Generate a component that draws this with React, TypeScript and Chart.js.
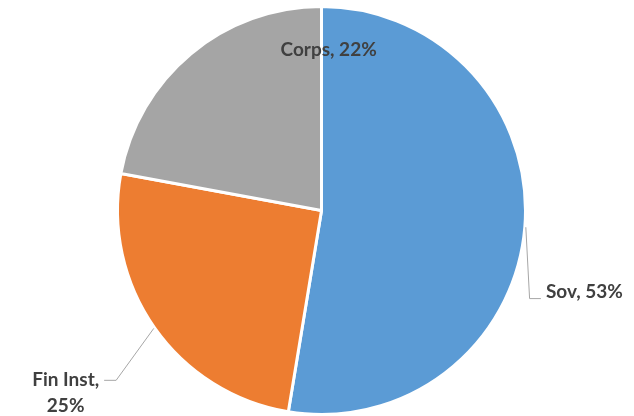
import React, { useEffect, useRef } from "react";
import { Chart, registerables } from "chart.js";

Chart.register(...registerables);

const categories = ["Sov", "Fin Inst", "Corps"];
const shares = [52.6, 25.3, 22.1];
const sliceColors = ["#5B9BD5", "#ED7D31", "#A5A5A5"];

const FONT = "bold 19px Lato, 'Open Sans', sans-serif";
const TEXT_COLOR = "#404040";
const LEADER_COLOR = "#A6A6A6";

const labelPlugin = {
  id: "excelLabels",
  afterDatasetsDraw(chart: any) {
    const ctx = chart.ctx as CanvasRenderingContext2D;
    const meta = chart.getDatasetMeta(0);
    const data = chart.data.datasets[0].data as number[];
    const total = data.reduce((a, b) => a + b, 0);
    const labels = chart.data.labels as string[];
    ctx.save();
    ctx.font = FONT;
    ctx.fillStyle = TEXT_COLOR;
    ctx.strokeStyle = LEADER_COLOR;
    ctx.lineWidth = 1;
    meta.data.forEach((arc: any, i: number) => {
      const { x, y, startAngle, endAngle, outerRadius } = arc.getProps(
        ["x", "y", "startAngle", "endAngle", "outerRadius"],
        true
      );
      const r = outerRadius;
      const mid = (startAngle + endAngle) / 2;
      const pct = Math.round((data[i] / total) * 100) + "%";
      const name = labels[i];
      const ox = x + Math.cos(mid) * (r + 1);
      const oy = y + Math.sin(mid) * (r + 1);
      if (i === 0) {
        const tx = x + 1.1 * r;
        const ty = y + 0.4 * r;
        ctx.beginPath();
        ctx.moveTo(ox, oy);
        ctx.lineTo(x + 1.02 * r, ty + 6.5);
        ctx.lineTo(tx - 5, ty + 6.5);
        ctx.stroke();
        ctx.textAlign = "left";
        ctx.textBaseline = "middle";
        ctx.fillText(name + ", " + pct, tx, ty);
      } else if (i === 1) {
        const line1 = name + ",";
        const w1 = ctx.measureText(line1).width;
        const right = x - 1.09 * r;
        const ty = y + 0.83 * r;
        ctx.beginPath();
        ctx.moveTo(ox, oy);
        ctx.lineTo(right + 17, ty + 0.5);
        ctx.lineTo(right + 5, ty + 0.5);
        ctx.stroke();
        const cxText = right - w1 / 2;
        ctx.textAlign = "center";
        ctx.textBaseline = "middle";
        ctx.fillText(line1, cxText, ty);
        ctx.fillText(pct, cxText, ty + 26);
      } else {
        ctx.textAlign = "center";
        ctx.textBaseline = "middle";
        ctx.fillText(name + ", " + pct, x + 0.035 * r, y - 0.785 * r);
      }
    });
    ctx.restore();
  },
};

export default function App() {
  const ref = useRef<HTMLCanvasElement>(null);
  useEffect(() => {
    document.body.style.margin = "0";
    const chart = new Chart(ref.current!, {
      type: "pie",
      data: {
        labels: categories,
        datasets: [
          {
            data: shares,
            backgroundColor: sliceColors,
            borderColor: "#FFFFFF",
            borderWidth: 3,
          },
        ],
      },
      options: {
        animation: false,
        responsive: false,
        devicePixelRatio: 1,
        layout: { padding: { left: 9, right: 0, top: 5, bottom: 0 } },
        plugins: {
          legend: { display: false },
          tooltip: { enabled: false },
        },
      },
      plugins: [labelPlugin],
    });
    return () => chart.destroy();
  }, []);
  return (
    <div style={{ position: "fixed", left: 0, top: 0, width: 634, height: 416, background: "#fff" }}>
      <canvas ref={ref} width={634} height={416} style={{ width: 634, height: 416 }} />
    </div>
  );
}
